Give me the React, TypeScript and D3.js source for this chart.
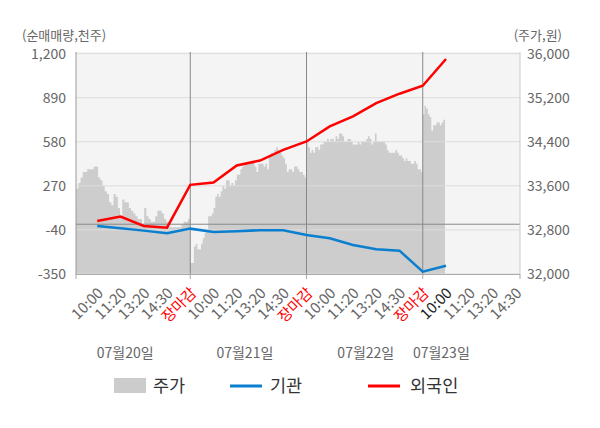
import React from "react";
import * as d3 from "d3";

// ---- data ----
const xLabels = [
  "10:00", "11:20", "13:20", "14:30", "장마감",
  "10:00", "11:20", "13:20", "14:30", "장마감",
  "10:00", "11:20", "13:20", "14:30", "장마감",
  "10:00", "11:20", "13:20", "14:30",
];
const dateLabels = ["07월20일", "07월21일", "07월22일", "07월23일"];
const leftTicks = [-350, -40, 270, 580, 890, 1200];
const rightTicks = [32000, 32800, 33600, 34400, 35200, 36000];

// net buying (thousand shares), at category index 1..16
const foreignNet = [23, 54, -12, -24, 277, 293, 413, 448, 523, 582, 688, 758, 852, 918, 974, 1162];
const institNet = [-12, -28, -45, -63, -31, -54, -49, -42, -42, -75, -99, -146, -176, -186, -334, -292];

// intraday price (won), per day
const priceDay1 = [
  33300, 33550, 33650, 33750, 33850, 33850, 33900, 33900, 33900, 33950,
  33950, 33750, 33700, 33600, 33500, 33450, 33300, 33250, 33450, 33400,
  33200, 33050, 33350, 33300, 33300, 33200, 33150, 33100, 33050, 33000,
  33000, 32900, 33200, 33050, 33000, 32950, 32950, 33050, 33150, 33150,
  33100, 33000, 32950, 32850, 32850, 32850, 32850, 32850, 32850, 32900,
  32950, 32950, 33000, 33000,
];
const priceDay2 = [
  32200, 32200, 32500, 32550, 32450, 32450, 32550, 32650, 32750, 32800,
  33050, 33050, 33100, 33200, 33400, 33450, 33400, 33500, 33600, 33550,
  33700, 33700, 33600, 33650, 33600, 33700, 33800, 33800, 33900, 33950,
  34000, 34000, 34000, 34000, 34050, 34050, 33950, 33850, 34000, 34000,
  34000, 33950, 34000, 33900, 34150, 34200, 34200, 34250, 34300, 34250,
  34200, 34150, 34100, 34000, 33850, 33900, 33900, 33850, 33950, 33950,
  33900, 33850, 33850, 33800, 33750, 33750,
];
const priceDay3 = [
  34400, 34300, 34200, 34250, 34200, 34300, 34300, 34250, 34350, 34350,
  34400, 34400, 34450, 34400, 34450, 34450, 34400, 34500, 34450, 34550,
  34550, 34500, 34400, 34400, 34450, 34450, 34400, 34350, 34350, 34350,
  34400, 34350, 34400, 34400, 34400, 34450, 34500, 34450, 34350, 34400,
  34550, 34400, 34400, 34400, 34400, 34400, 34350, 34250, 34200, 34200,
  34200, 34200, 34250, 34200, 34150, 34150, 34100, 34050, 34100, 34050,
  34050, 34000, 34000, 34050, 34000, 33900, 33900, 33850, 33900,
];
const priceDay4 = [
  34900, 35050, 35000, 34900, 34850, 34600, 34700, 34700, 34750, 34750,
  34700, 34750, 34800, 34850,
];
const priceDays = [priceDay1, priceDay2, priceDay3, priceDay4];

const legendItems = ["주가", "기관", "외국인"];

// ---- layout ----
const W = 600;
const H = 428;
const L = 76;
const R = 520;
const T = 52;
const B = 274;
const FONT = "'Noto Sans CJK KR', 'Noto Sans', sans-serif";
const PER_DAY = 5;
const dateLabelAt = [2.2, 7.35, 12.55, 15.8];

const fmt = (v: number) => d3.format(",")(v).replace("\u2212", "-");

export default function App() {
  const x = d3.scaleLinear().domain([0, 19]).range([74, 515.75]);
  const yL = d3.scaleLinear().domain([-350, 1200]).range([274, 53.6]);
  const yR = d3.scaleLinear().domain([32000, 36000]).range([274, 53.6]);

  // price points
  const pts: [number, number][] = [];
  const lastStep = PER_DAY / (priceDay3.length - 1);
  priceDays.forEach((arr, d) => {
    const full = d < priceDays.length - 1;
    const step = full ? PER_DAY / (arr.length - 1) : lastStep;
    arr.forEach((p, k) => {
      pts.push([d * PER_DAY + k * step, p]);
    });
  });
  const area = d3
    .area<[number, number]>()
    .x((d) => x(d[0]))
    .y0(yR(32000))
    .y1((d) => yR(d[1]))
    .curve(d3.curveStepAfter);

  const line = d3
    .line<number>()
    .x((_, i) => x(i + 1))
    .y((d) => yL(d));

  const dividers = [5, 10, 15];
  const axisTicks = [L, x(5), x(10), x(15), R];

  return (
    <svg width={W} height={H} style={{ display: "block", position: "absolute", left: 0, top: 0 }} fontFamily={FONT}>
      <defs>
        <clipPath id="plot">
          <rect x={L} y={T} width={R - L} height={B - T} />
        </clipPath>
      </defs>
      <rect x={0} y={0} width={W} height={H} fill="#fff" />
      <rect x={L} y={T} width={R - L} height={B - T} fill="#f4f4f4" />
      <g clipPath="url(#plot)">
        <path d={area(pts) || ""} fill="#cdcdcd" />
      </g>
      {leftTicks.map((t) => (
        <line key={t} x1={L} x2={R} y1={yL(t)} y2={yL(t)} stroke="#dcdcdc" strokeWidth={1} />
      ))}
      <line x1={L} x2={R} y1={yL(0)} y2={yL(0)} stroke="#888" strokeWidth={1} />
      {dividers.map((i) => (
        <line key={i} x1={x(i)} x2={x(i)} y1={T} y2={B} stroke="#888" strokeWidth={1} />
      ))}
      {/* axes */}
      <line x1={L} x2={L} y1={T} y2={B + 0.5} stroke="#999" strokeWidth={1} />
      <line x1={R} x2={R} y1={T} y2={B + 0.5} stroke="#ccc" strokeWidth={1} />
      <line x1={L} x2={R} y1={B + 0.5} y2={B + 0.5} stroke="#aaa" strokeWidth={1} />
      {axisTicks.map((t, i) => (
        <line key={i} x1={t} x2={t} y1={B} y2={B + 5} stroke="#aaa" strokeWidth={1} />
      ))}
      {/* series lines */}
      <path d={line(institNet) || ""} fill="none" stroke="#0a7fcf" strokeWidth={2.5} />
      <path d={line(foreignNet) || ""} fill="none" stroke="#ff0000" strokeWidth={2.5} />
      {/* left ticks */}
      {leftTicks.map((t) => (
        <text key={t} x={66} y={yL(t)} dy="0.36em" textAnchor="end" fontSize={14} fill="#666">
          {fmt(t)}
        </text>
      ))}
      {rightTicks.map((t) => (
        <text key={t} x={527} y={yR(t)} dy="0.36em" textAnchor="start" fontSize={14} fill="#666">
          {fmt(t)}
        </text>
      ))}
      <text x={22} y={35} dy="0.36em" fontSize={13} fill="#666">(순매매량,천주)</text>
      <text x={562} y={35} dy="0.36em" fontSize={13} fill="#666" textAnchor="end">(주가,원)</text>
      {/* x labels */}
      {xLabels.map((lab, i) => {
        const px = x(i + 1) + 7;
        const py = 294;
        const color = lab === "장마감" ? "#ff0000" : i === 15 ? "#222" : "#666";
        return (
          <text key={i} transform={`translate(${px},${py}) rotate(-45)`} textAnchor="end" fontSize={15} fill={color}>
            {lab}
          </text>
        );
      })}
      {dateLabels.map((lab, d) => (
        <text key={lab} x={x(dateLabelAt[d])} y={353} dy="0.36em" textAnchor="middle" fontSize={14} fill="#666">
          {lab}
        </text>
      ))}
      {/* legend */}
      <rect x={114} y={378} width={32} height={15} fill="#cccccc" />
      <text x={153} y={386} dy="0.36em" fontSize={17.5} fill="#333">{legendItems[0]}</text>
      <line x1={230} x2={262} y1={386} y2={386} stroke="#0a7fcf" strokeWidth={3} />
      <text x={270} y={386} dy="0.36em" fontSize={17.5} fill="#333">{legendItems[1]}</text>
      <line x1={368} x2={400} y1={386} y2={386} stroke="#ff0000" strokeWidth={3} />
      <text x={410} y={386} dy="0.36em" fontSize={17.5} fill="#333">{legendItems[2]}</text>
    </svg>
  );
}
